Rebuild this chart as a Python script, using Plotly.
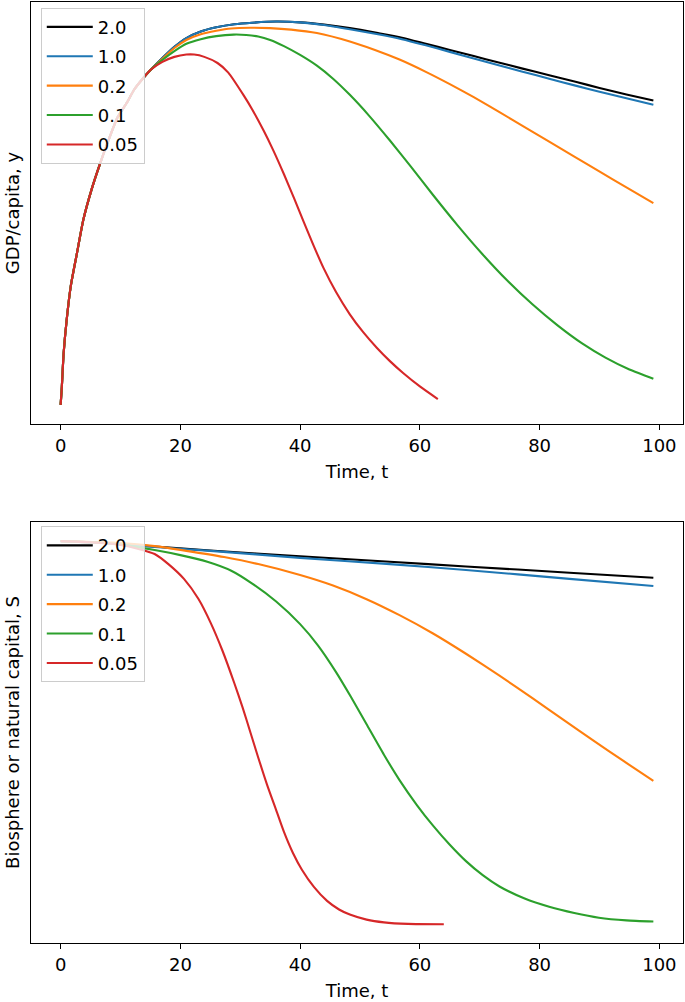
import plotly.graph_objects as go

labels = ["2.0", "1.0", "0.2", "0.1", "0.05"]
colors = ["#000000", "#1f77b4", "#ff7f0e", "#2ca02c", "#d62728"]
x_ticks = [0, 20, 40, 60, 80, 100]

# ---- Top panel: GDP/capita, y (arbitrary units) ----
# shared early rise (identical for all runs)
t_rise = [0, 0.2, 0.5, 1, 1.7, 2.7, 3.8, 5.2, 6.5, 8, 9.5, 11, 12.3, 13.7, 15.1]
y_rise = [0, 4.7, 13.4, 22.0, 31.0, 39.3, 48.3, 56.3, 62.5, 69.0, 74.9, 78.6, 82.2, 85.0, 87.4]

y_t_20 = [17, 19, 21, 23.4, 26, 29, 32, 36, 40, 44, 48.3, 53, 57, 61, 65, 69, 73, 77, 81.6, 86, 90, 94.5, 99]
y_v_20 = [90.4, 93.3, 95.6, 97.3, 98.4, 99.2, 99.6, 99.9, 99.7, 99.1, 98.2, 96.9, 95.7, 94.1,
          92.5, 90.9, 89.3, 87.7, 85.9, 84.2, 82.6, 80.9, 79.3]
y_t_10 = [17, 19, 21, 23.4, 26, 29, 32, 36, 40, 44, 48.3, 53, 57, 61, 65, 69, 73, 77, 81.6, 86, 90, 94.5, 99]
y_v_10 = [90.4, 93.3, 95.6, 97.3, 98.4, 99.2, 99.6, 99.9, 99.7, 99.0, 97.9, 96.6, 95.3, 93.7,
          92.0, 90.3, 88.6, 86.9, 85.0, 83.2, 81.6, 79.9, 78.2]
y_t_02 = [17, 19, 21, 23.4, 26, 28.5, 31.7, 35, 38.5, 42.8, 48.3, 52.5, 56.6, 61, 65, 69, 73.3,
          77.5, 81.6, 85.8, 89.9, 94.5, 99]
y_v_02 = [90.2, 93.0, 95.1, 96.6, 97.5, 98.1, 98.3, 98.2, 97.8, 96.9, 94.7, 92.5, 90.0, 86.8,
          83.6, 80.2, 76.3, 72.4, 68.6, 64.7, 60.9, 56.7, 52.6]
y_t_01 = [17, 19, 21, 23.4, 26, 28.9, 31, 33, 35, 37.3, 40, 42.8, 45.5, 48.3, 51.5, 55, 58.5,
          62.2, 66.3, 70.5, 74.6, 78.8, 83, 87.1, 91, 95, 99]
y_v_01 = [89.9, 92.2, 94.1, 95.3, 96.1, 96.5, 96.4, 96.0, 95.1, 93.5, 91.2, 88.4, 85.0, 80.8,
          75.4, 68.9, 62.1, 54.7, 46.8, 39.2, 32.4, 26.2, 20.7, 16.0, 12.3, 9.2, 6.8]
y_t_005 = [17, 19, 21, 22.3, 24, 26.2, 28, 30.6, 32, 33.9, 35.5, 37.3, 39, 40.6, 42.2, 43.9,
           46, 48.3, 50.5, 52.8, 55, 57.2, 60, 63]
y_v_005 = [89.4, 90.7, 91.3, 91.3, 90.7, 89.1, 86.6, 80.6, 77.0, 71.5, 66.4, 60.1, 53.8, 47.7,
           41.7, 35.7, 29.4, 23.6, 19.0, 14.9, 11.4, 8.3, 4.8, 1.5]

# ---- Bottom panel: Biosphere or natural capital, S (arbitrary units) ----
s_t_20 = [0, 8, 15.7, 25, 40, 55, 67.7, 85, 99]
s_v_20 = [100, 99.5, 98.6, 97.6, 96.1, 94.7, 93.5, 91.9, 90.6]
s_t_10 = [0, 8, 15.7, 25, 40, 55, 67.7, 85, 99]
s_v_10 = [100, 99.5, 98.5, 97.5, 95.7, 94.1, 92.6, 90.3, 88.5]
s_t_02 = [0, 10, 15.7, 21, 27.3, 33, 40, 45.5, 51.1, 56.6, 62.2, 67.7, 73.3, 78.8, 84.3, 89, 94, 99]
s_v_02 = [100, 99.5, 98.7, 97.5, 95.9, 94.1, 91.3, 88.6, 85.1, 81.0, 76.3, 71.1, 65.5, 59.7,
          53.8, 48.8, 43.6, 38.5]
s_t_01 = [0, 5, 10, 15.7, 20, 24.5, 28.5, 32, 36, 40, 43, 46, 48.5, 51.1, 54, 56.6, 59.5, 62.2,
          65, 67.7, 70.5, 73.3, 77.5, 81.6, 85.8, 89.9, 94.5, 99]
s_v_01 = [100, 99.7, 99.1, 97.7, 96.4, 94.7, 92.4, 89.1, 84.5, 78.7, 73.2, 66.4, 60.0, 53.0,
          45.2, 38.7, 32.3, 27.0, 22.1, 17.9, 14.3, 11.4, 8.3, 6.2, 4.6, 3.4, 2.7, 2.4]
s_t_005 = [0, 5, 10, 13, 15.7, 18, 20.6, 23, 25.1, 27, 29, 30.4, 31.7, 33, 34.5, 36, 37.3, 38.8,
           40.3, 42.3, 44.5, 46.5, 48.3, 51.1, 54, 58, 64]
s_v_005 = [100, 99.7, 99.0, 98.0, 96.7, 94.1, 90.3, 85.2, 78.9, 72.0, 63.6, 57.3, 50.9, 44.5,
           37.4, 31.0, 25.4, 20.0, 15.7, 11.3, 7.7, 5.5, 4.2, 2.9, 2.2, 1.8, 1.7]

top_t = [y_t_20, y_t_10, y_t_02, y_t_01, y_t_005]
top_v = [y_v_20, y_v_10, y_v_02, y_v_01, y_v_005]
bot_t = [s_t_20, s_t_10, s_t_02, s_t_01, s_t_005]
bot_v = [s_v_20, s_v_10, s_v_02, s_v_01, s_v_005]

FONT = "DejaVu Sans, Liberation Sans, sans-serif"
FS = 18

fig = go.Figure()
for i, (lab, col, tt, vv) in enumerate(zip(labels, colors, top_t, top_v)):
    fig.add_trace(go.Scatter(
        x=t_rise + tt, y=y_rise + vv, mode="lines", name=lab,
        line=dict(color=col, width=2.1, shape="spline", smoothing=0.6),
        xaxis="x", yaxis="y", legend="legend", legendgroup="top%d" % i))
for i, (lab, col, tt, vv) in enumerate(zip(labels, colors, bot_t, bot_v)):
    fig.add_trace(go.Scatter(
        x=tt, y=vv, mode="lines", name=lab,
        line=dict(color=col, width=2.1, shape="spline", smoothing=0.6),
        xaxis="x2", yaxis="y2", legend="legend2", legendgroup="bot%d" % i))


def xax(anchor):
    return dict(anchor=anchor, domain=[0, 1], range=[-4.95, 103.95], automargin=False,
                tickmode="array", tickvals=x_ticks, ticktext=[str(v) for v in x_ticks],
                ticks="outside", ticklen=5, tickwidth=1.2, tickcolor="black",
                showline=True, mirror=True, linecolor="black", linewidth=1.3,
                showgrid=False, zeroline=False,
                tickfont=dict(size=FS, color="black"),
                title=dict(text="Time, t", font=dict(size=FS, color="black"), standoff=10))


def yax(anchor, dom, rng, title):
    return dict(anchor=anchor, domain=dom, range=rng, showticklabels=False, automargin=False,
                ticks="", showline=True, mirror=True, linecolor="black", linewidth=1.3,
                showgrid=False, zeroline=False,
                title=dict(text=title, font=dict(size=FS, color="black"), standoff=5))


legend_style = dict(xanchor="left", yanchor="top", bgcolor="rgba(255,255,255,0.8)",
                    bordercolor="#cccccc", borderwidth=1, tracegroupgap=3, itemwidth=46,
                    font=dict(size=FS, color="black", family=FONT))

fig.update_layout(
    width=685, height=1002,
    margin=dict(l=31, r=2, t=2, b=59),
    paper_bgcolor="white", plot_bgcolor="white",
    font=dict(family=FONT, size=FS, color="black"),
    xaxis=xax("y"),
    yaxis=yax("x", [0.5515, 1.0], [-5, 105], "GDP/capita, y"),
    xaxis2=xax("y2"),
    yaxis2=yax("x2", [0.0, 0.4474], [-3.1, 104.9], "Biosphere or natural capital, S"),
    legend=dict(x=0.015, y=0.994, **legend_style),
    legend2=dict(x=0.015, y=0.443, **legend_style),
)

fig.write_html("out.html", config={"displayModeBar": False},
               post_script="document.body.style.margin='0px';document.body.style.overflow='hidden';")
